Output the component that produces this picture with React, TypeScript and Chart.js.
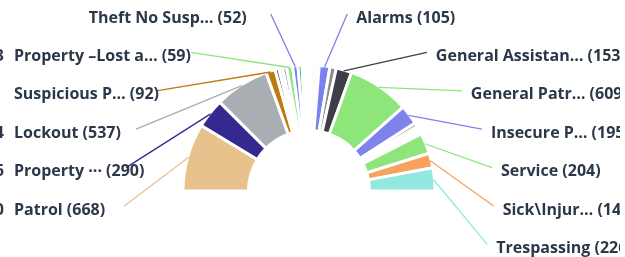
import React, { useEffect, useRef } from 'react';
import { Chart, registerables } from 'chart.js';

Chart.register(...registerables);

// Slices, in order from the left end of the half ring to the right end
const categories = [
  'Patrol', 'Property ···', 'Lockout', 'Suspicious P…', 'Other 1', 'Other 2', 'Other 3',
  'Property –Lost a…', 'Theft No Susp…', 'Other 4', 'Other 5', 'Other 6', 'Other 7',
  'Alarms', 'Other 8', 'General Assistan…', 'General Patr…', 'Insecure P…', 'Other 9',
  'Other 10', 'Service', 'Sick\\Injur…', 'Trespassing',
];
const values = [
  668, 290, 537, 92, 40, 35, 40,
  59, 52, 40, 30, 30, 108,
  105, 63, 153, 609, 195, 40,
  80, 204, 146, 226,
];
const colors = [
  '#e8c28c', '#35288f', '#a9aeb3', '#bf7a0e', '#5c5c5c', '#cbc4f2', '#999999',
  '#8ee57a', '#7a7ff0', '#2e9b93', '#f2df7c', '#a9ec9a', '#fdfdfd',
  '#7c80ec', '#8c8c8c', '#3e3e46', '#8ee57a', '#7f82ea', '#9a9a9a',
  '#fefefe', '#8fe57c', '#f6a35f', '#92e8df',
];
const labelled = [
  true, true, true, true, false, false, false,
  true, true, false, false, false, false,
  true, false, true, true, true, false,
  false, true, true, true,
];
// clipped text fragments visible at the left edge, per left label row
const edgeFragments = ['', '3', '', '4', '6', '0'];

const ROW_TOP = 14;
const ROW_GAP = 38.4;
const LABEL_RING = 185;
const FONT = 'bold 16px "Open Sans"';
const TEXT_COLOR = '#2b384a';

const calloutPlugin = {
  id: 'callouts',
  afterDraw(chart: any) {
    const meta = chart.getDatasetMeta(0);
    const ctx = chart.ctx;
    const items: any[] = [];
    meta.data.forEach((arc: any, i: number) => {
      if (!labelled[i]) return;
      const p = arc.getProps(['x', 'y', 'startAngle', 'endAngle', 'outerRadius'], true);
      const mid = (p.startAngle + p.endAngle) / 2;
      const r = p.outerRadius - 1;
      items.push({
        i,
        mid,
        sx: p.x + Math.cos(mid) * r,
        sy: p.y + Math.sin(mid) * r,
        cx: p.x,
        cy: p.y,
        left: Math.cos(mid) < 0,
      });
    });
    const left = items.filter((d) => d.left).sort((a, b) => b.mid - a.mid);
    const right = items.filter((d) => !d.left).sort((a, b) => a.mid - b.mid);
    ctx.save();
    ctx.font = FONT;
    ctx.textBaseline = 'middle';
    const place = (list: any[], isLeft: boolean) => {
      list.forEach((d, row) => {
        const yEnd = ROW_TOP + ROW_GAP * row;
        const dy = yEnd - (d.cy + 4);
        const dx = Math.sqrt(Math.max(LABEL_RING * LABEL_RING - dy * dy, 0));
        const xEnd = isLeft ? d.cx - dx : d.cx + dx;
        ctx.strokeStyle = colors[d.i];
        ctx.lineWidth = 1.3;
        ctx.beginPath();
        ctx.moveTo(d.sx, d.sy);
        ctx.lineTo(xEnd, yEnd);
        ctx.stroke();
        const text = `${categories[d.i]} (${values[d.i]})`;
        const ty = yEnd + 4;
        ctx.fillStyle = TEXT_COLOR;
        if (isLeft) {
          if (row === 0) {
            ctx.textAlign = 'right';
            ctx.fillText(text, xEnd - 24, ty);
          } else {
            ctx.textAlign = 'left';
            ctx.fillText(text, 14, ty);
          }
          const frag = edgeFragments[row];
          if (frag) {
            ctx.textAlign = 'right';
            ctx.fillText(frag, 4, ty);
          }
        } else {
          ctx.textAlign = 'left';
          ctx.fillText(text, xEnd + 9, ty);
        }
      });
    };
    place(left, true);
    place(right, false);
    ctx.restore();
  },
};

export default function App() {
  const ref = useRef<HTMLCanvasElement | null>(null);
  useEffect(() => {
    if (!ref.current) return;
    const chart = new Chart(ref.current, {
      type: 'doughnut',
      data: {
        labels: categories,
        datasets: [
          {
            data: values,
            backgroundColor: colors,
            borderColor: '#ffffff',
            borderWidth: 3,
          },
        ],
      },
      options: {
        animation: false,
        responsive: true,
        maintainAspectRatio: false,
        rotation: -90,
        circumference: 180,
        radius: 126,
        cutout: '48%',
        layout: { padding: { left: 0, right: 2, top: 0, bottom: 1 } },
        plugins: {
          legend: { display: false },
          tooltip: { enabled: false },
        },
      } as any,
      plugins: [calloutPlugin],
    });
    return () => chart.destroy();
  }, []);
  return (
    <div style={{ position: 'absolute', left: 0, top: 0, width: 620, height: 257, background: '#fff' }}>
      <canvas ref={ref} />
    </div>
  );
}
